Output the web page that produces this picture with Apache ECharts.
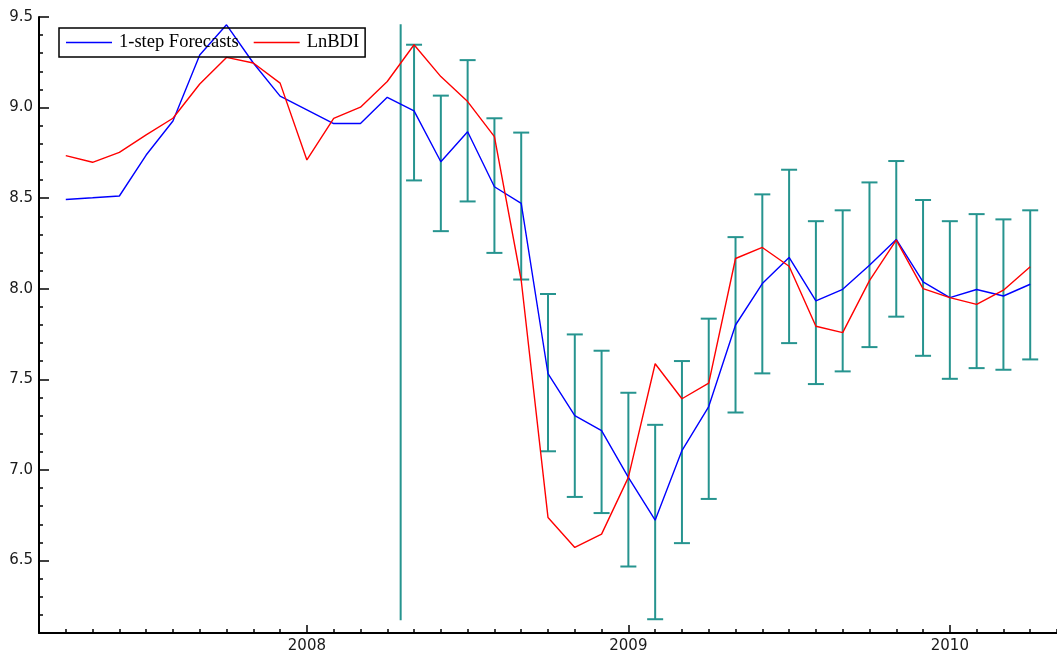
<!DOCTYPE html>
<html>
<head>
<meta charset="utf-8">
<script src="https://cdn.jsdelivr.net/npm/echarts@6/dist/echarts.min.js"></script>
<style>
html,body{margin:0;padding:0;background:#fff;}
#chart{width:1057px;height:660px;}
</style>
</head>
<body>
<div id="chart"></div>
<script>
// Monthly observations
const months = ['2007-04','2007-05','2007-06','2007-07','2007-08','2007-09','2007-10','2007-11','2007-12',
  '2008-01','2008-02','2008-03','2008-04','2008-05','2008-06','2008-07','2008-08','2008-09','2008-10','2008-11','2008-12',
  '2009-01','2009-02','2009-03','2009-04','2009-05','2009-06','2009-07','2009-08','2009-09','2009-10','2009-11','2009-12',
  '2010-01','2010-02','2010-03','2010-04'];

const forecasts = [8.493,8.502,8.512,8.738,8.926,9.29,9.457,9.246,9.063,
  8.987,8.912,8.912,9.057,8.982,8.701,8.867,8.563,8.471,7.531,7.300,7.217,
  6.959,6.723,7.107,7.350,7.800,8.029,8.173,7.933,7.997,8.130,8.272,8.038,
  7.951,7.996,7.960,8.025];

const lnbdi = [8.735,8.698,8.753,8.849,8.941,9.13,9.277,9.246,9.135,
  8.711,8.941,9.002,9.144,9.347,9.171,9.033,8.840,8.047,6.738,6.572,6.646,
  6.959,7.586,7.393,7.479,8.167,8.228,8.124,7.793,7.758,8.045,8.268,8.001,
  7.951,7.914,7.992,8.121];

// Forecast error bands (May 2008 .. Apr 2010)
const errMonths = months.slice(13);
const errLow  = [8.598,8.318,8.482,8.198,8.051,7.103,6.851,6.762,6.467,6.176,6.596,6.840,
  7.317,7.533,7.700,7.474,7.544,7.678,7.846,7.630,7.503,7.562,7.553,7.610];
const errHigh = [9.347,9.066,9.262,8.941,8.862,7.971,7.748,7.658,7.426,7.249,7.601,7.835,
  8.285,8.521,8.657,8.373,8.433,8.587,8.705,8.490,8.373,8.412,8.383,8.433];

// forecast start marker (between Apr and May 2008)
const dividerPos = 3.5;
const dividerRange = [6.17, 9.46];

// Axis ticks
const yearTicks = [0, 12, 24];
const yMajorTicks = [6.5, 7.0, 7.5, 8.0, 8.5, 9.0, 9.5];
const yMinorTicks = [6.2,6.3,6.4,6.6,6.7,6.8,6.9,7.1,7.2,7.3,7.4,7.6,7.7,7.8,7.9,8.1,8.2,8.3,8.4,8.6,8.7,8.8,8.9,9.1,9.2,9.3,9.4];

function mIndex(s){ const p = s.split('-'); return (parseInt(p[0])-2008)*12 + (parseInt(p[1])-1); }

const blueData = months.map((m,i)=>[mIndex(m), forecasts[i]]);
const redData = months.map((m,i)=>[mIndex(m), lnbdi[i]]);
const errData = errMonths.map((m,i)=>[mIndex(m), errLow[i], errHigh[i]]);

const teal = '#26948f';
const chart = echarts.init(document.getElementById('chart'), null, {renderer:'canvas'});
const axisFont = {fontFamily:'DejaVu Sans', fontSize:15, color:'#1a1a1a'};

chart.setOption({
  animation:false,
  backgroundColor:'#fff',
  grid:{left:39, top:17, right:0, bottom:27, containLabel:false, outerBoundsMode:'none'},
  legend:{
    data:[{name:'1-step Forecasts', icon:'rect'},{name:'LnBDI', icon:'rect'}],
    left:59, top:28,
    orient:'horizontal',
    itemWidth:46, itemHeight:1.6, itemGap:15,
    padding:[5,6,5,7],
    borderColor:'#000', borderWidth:1.5,
    selectedMode:false,
    textStyle:{fontFamily:'Liberation Serif', fontSize:18.5, color:'#000', padding:[0,0,0,2]}
  },
  xAxis:[
    {type:'value', min:-10, max:28, interval:1, position:'bottom',
     axisLine:{onZero:false, lineStyle:{color:'#000', width:2}},
     axisTick:{inside:true, length:4, lineStyle:{color:'#000', width:1.5}},
     axisLabel:{show:false}, splitLine:{show:false}},
    {type:'value', min:-10, max:28, position:'bottom', offset:0,
     axisLine:{show:false, onZero:false},
     axisTick:{inside:true, length:8, customValues:yearTicks, lineStyle:{color:'#000', width:1.5}},
     axisLabel:Object.assign({customValues:yearTicks, margin:6, formatter:v=>String(2008+Math.round(v/12))}, axisFont),
     splitLine:{show:false}}
  ],
  yAxis:[
    {type:'value', min:6.1, max:9.5, position:'left',
     axisLine:{show:true, onZero:false, lineStyle:{color:'#000', width:2}},
     axisTick:{inside:true, length:4, customValues:yMinorTicks, lineStyle:{color:'#000', width:1.5}},
     axisLabel:{show:false}, splitLine:{show:false}},
    {type:'value', min:6.1, max:9.5, position:'left', offset:0,
     axisLine:{show:false, onZero:false},
     axisTick:{show:true, inside:true, length:10, customValues:yMajorTicks, lineStyle:{color:'#000', width:1.5}},
     axisLabel:Object.assign({customValues:yMajorTicks, margin:6, formatter:v=>v.toFixed(1)}, axisFont),
     splitLine:{show:false}}
  ],
  series:[
    {type:'custom', name:'bands', xAxisIndex:0, yAxisIndex:0, z:1,
     data:errData,
     renderItem:function(params, api){
       const x = api.value(0);
       const lo = api.coord([x, api.value(1)]);
       const hi = api.coord([x, api.value(2)]);
       const hw = 8;
       const st = {stroke:teal, lineWidth:2};
       return {type:'group', children:[
         {type:'line', shape:{x1:lo[0], y1:lo[1], x2:hi[0], y2:hi[1]}, style:st},
         {type:'line', shape:{x1:lo[0]-hw, y1:lo[1], x2:lo[0]+hw, y2:lo[1]}, style:st},
         {type:'line', shape:{x1:hi[0]-hw, y1:hi[1], x2:hi[0]+hw, y2:hi[1]}, style:st}
       ]};
     }},
    {type:'custom', name:'divider', xAxisIndex:0, yAxisIndex:0, z:1,
     data:[[dividerPos, dividerRange[0], dividerRange[1]]],
     renderItem:function(params, api){
       const lo = api.coord([api.value(0), api.value(1)]);
       const hi = api.coord([api.value(0), api.value(2)]);
       return {type:'line', shape:{x1:lo[0], y1:lo[1], x2:hi[0], y2:hi[1]}, style:{stroke:teal, lineWidth:2}};
     }},
    {type:'line', name:'1-step Forecasts', xAxisIndex:0, yAxisIndex:0, z:3,
     data:blueData, showSymbol:false, symbol:'none',
     lineStyle:{color:'#0000ff', width:1.4}, itemStyle:{color:'#0000ff'}},
    {type:'line', name:'LnBDI', xAxisIndex:0, yAxisIndex:0, z:3,
     data:redData, showSymbol:false, symbol:'none',
     lineStyle:{color:'#ff0000', width:1.4}, itemStyle:{color:'#ff0000'}}
  ]
});
</script>
</body>
</html>
